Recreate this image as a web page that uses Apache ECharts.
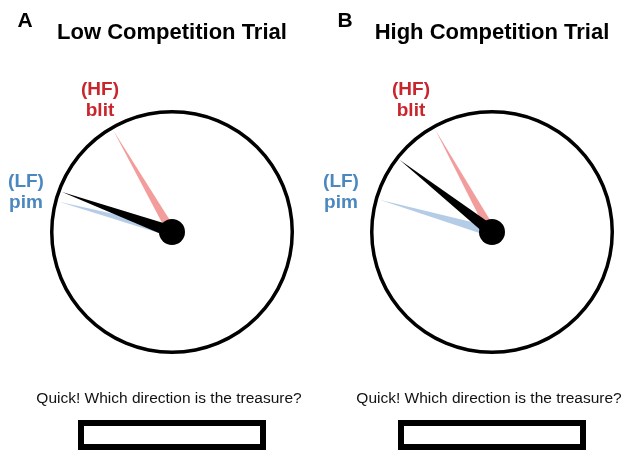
<!DOCTYPE html>
<html>
<head>
<meta charset="utf-8">
<title>Treasure direction trials</title>
<script src="https://cdn.jsdelivr.net/npm/echarts@6/dist/echarts.min.js"></script>
<style>
  html, body { margin: 0; padding: 0; background: #fff; }
  #main { width: 622px; height: 450px; }
</style>
</head>
<body>
<div id="main"></div>
<script>
// panel text
var panelLetters = ['A', 'B'];
var panelTitles = ['Low Competition Trial', 'High Competition Trial'];
// needle directions, degrees clockwise from 12 o'clock
var lfDirection = [285, 286];      // (LF) pim
var hfDirection = [330, 331];      // (HF) blit
var answerDirection = [290, 308];  // response needle (black)
var hfLabel = ['(HF)', 'blit'];
var lfLabel = ['(LF)', 'pim'];
var promptText = 'Quick! Which direction is the treasure?';

var FONT = '"Liberation Sans", Arial, Helvetica, sans-serif';
var RED = '#c8262c', BLUE = '#4b88c0';

// one gauge per needle so each can have its own colour / width
function needle(cx, value, color, width, ring, hub) {
    return {
        type: 'gauge',
        center: [cx, 232],
        radius: 122,
        startAngle: 90,
        endAngle: -270,
        min: 0,
        max: 360,
        axisLine: {
            show: ring,
            lineStyle: { width: 3.5, color: [[1, '#000']] }
        },
        progress: { show: false },
        splitLine: { show: false },
        axisTick: { show: false },
        axisLabel: { show: false },
        pointer: {
            show: true,
            length: 117,
            width: width,
            itemStyle: { color: color }
        },
        anchor: {
            show: hub,
            showAbove: true,
            size: 26,
            itemStyle: { color: '#000' }
        },
        title: { show: false },
        detail: { show: false },
        data: [{ value: value }]
    };
}

function txt(x, y, text, size, weight, color, lineHeight) {
    return {
        type: 'text',
        x: x,
        y: y,
        style: {
            text: text,
            fill: color,
            fontFamily: FONT,
            fontSize: size,
            fontWeight: weight,
            lineHeight: lineHeight || size,
            align: 'center',
            verticalAlign: 'middle'
        }
    };
}

var centers = [172, 492];
var series = [];
var graphic = [];

for (var i = 0; i < 2; i++) {
    var cx = centers[i];
    series.push(needle(cx, lfDirection[i], '#b5cce6', 5, true, false));
    series.push(needle(cx, hfDirection[i], '#f39c9c', 4.5, false, false));
    series.push(needle(cx, answerDirection[i], '#000', 6, false, true));

    graphic.push(txt(cx - 147, 21, panelLetters[i], 21, 'bold', '#000'));
    graphic.push(txt(cx, 33, panelTitles[i], 22, 'bold', '#000'));
    graphic.push(txt(cx - 72 + (i ? -9 : 0), 100, hfLabel.join('\n'), 19, 'bold', RED, 21));
    graphic.push(txt(cx - 146 + (i ? -5 : 0), 192, lfLabel.join('\n'), 19, 'bold', BLUE, 21));
    graphic.push(txt(cx - 3, 399, promptText, 15.5, 'normal', '#111'));
    // answer box
    graphic.push({
        type: 'rect',
        shape: { x: cx - 91, y: 423, width: 182, height: 24 },
        style: { fill: '#fff', stroke: '#000', lineWidth: 6 }
    });
}

var chart = echarts.init(document.getElementById('main'));
chart.setOption({
    animation: false,
    backgroundColor: '#fff',
    series: series,
    graphic: graphic
});
</script>
</body>
</html>
